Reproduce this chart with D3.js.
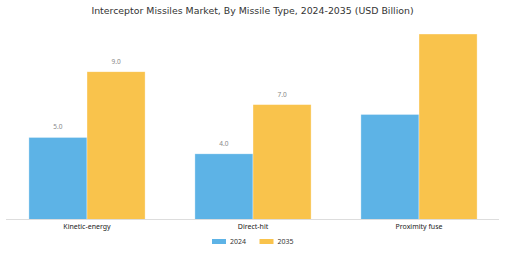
<!DOCTYPE html>
<html>
<head>
<meta charset="utf-8">
<script src="https://cdn.jsdelivr.net/npm/d3@7"></script>
<style>
  html, body { margin: 0; padding: 0; background: #fff; }
  svg { display: block; font-family: "DejaVu Sans", sans-serif; }
</style>
</head>
<body>
<svg id="chart" width="505" height="253"></svg>
<script>
// Missile types and market size (USD Billion)
const categories = ["Kinetic-energy", "Direct-hit", "Proximity fuse"];
const years = ["2024", "2035"];
const values2024 = [5.0, 4.0, 6.4];
const values2035 = [9.0, 7.0, 11.3];
// Only some bars carry a value label
const labelled = [true, true, false];
const colors = ["#5DB3E6", "#F9C34C"];

const W = 505, H = 253;
const baseY = 219.5, topY = 34;
const labelFont = "'Noto Sans', 'Open Sans', sans-serif";

const svg = d3.select("#chart");

const series = years.map((yr, i) => ({
  year: yr,
  values: i === 0 ? values2024 : values2035,
  color: colors[i]
}));

const x0 = d3.scaleBand()
  .domain(categories)
  .range([4, 502])
  .paddingInner(0.3)
  .paddingOuter(0.15);

const x1 = d3.scaleBand()
  .domain(years)
  .range([0, x0.bandwidth()]);

const yMax = d3.max(values2035.concat(values2024));
const y = d3.scaleLinear().domain([0, yMax]).range([baseY, topY]);

// Title
svg.append("text")
  .attr("x", W / 2)
  .attr("y", 13.5)
  .attr("text-anchor", "middle")
  .attr("font-size", 9.4)
  .attr("fill", "#333")
  .text("Interceptor Missiles Market, By Missile Type, 2024-2035 (USD Billion)");

// Bars
const groups = svg.append("g").selectAll("g")
  .data(categories)
  .join("g")
  .attr("transform", d => `translate(${x0(d)},0)`);

groups.selectAll("rect")
  .data((c, ci) => series.map(s => ({ year: s.year, value: s.values[ci], color: s.color })))
  .join("rect")
  .attr("x", d => x1(d.year))
  .attr("y", d => y(d.value))
  .attr("width", x1.bandwidth())
  .attr("height", d => baseY - y(d.value))
  .attr("fill", d => d.color)
  .attr("stroke", "#fff")
  .attr("stroke-opacity", 0.6)
  .attr("stroke-width", 0.6);

// Value labels
groups.selectAll("text.val")
  .data((c, ci) => labelled[ci] ? series.map(s => ({ year: s.year, value: s.values[ci] })) : [])
  .join("text")
  .attr("class", "val")
  .attr("x", d => x1(d.year) + x1.bandwidth() / 2)
  .attr("y", d => y(d.value) - 8)
  .attr("text-anchor", "middle")
  .attr("font-family", labelFont)
  .attr("font-size", 6.5)
  .attr("fill", "#888")
  .text(d => d.value.toFixed(1));

// Category axis
const xAxis = d3.axisBottom(x0).tickSize(0).tickPadding(4.5);
const axisG = svg.append("g")
  .attr("transform", `translate(0,${baseY})`)
  .call(xAxis);
axisG.select(".domain").attr("stroke", "#ddd").attr("stroke-width", 1)
  .attr("d", "M6,0H499");
axisG.selectAll("text")
  .attr("font-size", 7)
  .attr("font-family", labelFont)
  .attr("fill", "#222");

// Legend
const legend = svg.append("g").attr("transform", "translate(212,239)");
const items = legend.selectAll("g")
  .data(series)
  .join("g")
  .attr("transform", (d, i) => `translate(${i * 47.5},0)`);
items.append("rect")
  .attr("width", 14)
  .attr("height", 5)
  .attr("fill", d => d.color);
items.append("text")
  .attr("x", 18)
  .attr("y", 5.2)
  .attr("font-family", labelFont)
  .attr("font-size", 7)
  .attr("fill", "#333")
  .text(d => d.year);
</script>
</body>
</html>
